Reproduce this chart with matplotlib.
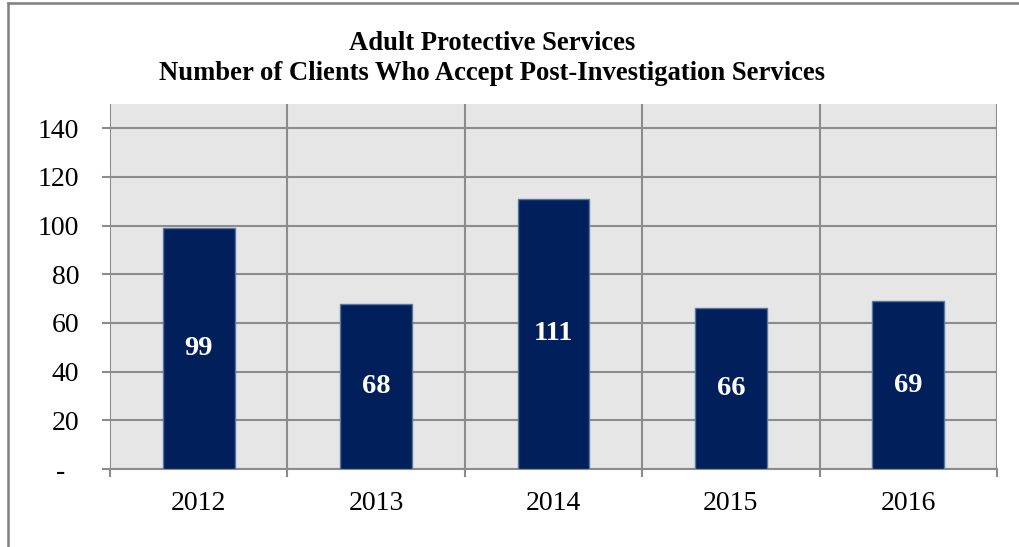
import matplotlib.pyplot as plt
from matplotlib.lines import Line2D
from matplotlib.transforms import ScaledTranslation

years = ['2012', '2013', '2014', '2015', '2016']
clients = [99, 68, 111, 66, 69]
y_ticks = [0, 20, 40, 60, 80, 100, 120, 140]
y_labels = ['-', '20', '40', '60', '80', '100', '120', '140']

plt.rcParams['font.family'] = ['Liberation Serif', 'DejaVu Serif']

W, H = 1019, 547
fig = plt.figure(figsize=(W / 100, H / 100), dpi=100)
ax = fig.add_axes([110 / W, 1 - 469 / H, (997 - 110) / W, (469 - 104) / H])

grid_col = '#8c8c8c'
ax.set_facecolor('#e6e6e6')
x = list(range(len(years)))
ax.bar(x, clients, width=0.405, color='#001f5b', edgecolor='#5577a0',
       linewidth=1.0, zorder=3)

for xi, v in zip(x, clients):
    ax.text(xi, v / 2, str(v), ha='center', va='center', color='white',
            fontsize=20.5, fontweight='bold', zorder=4)

ax.set_xlim(-0.5, len(years) - 0.5)
ax.set_ylim(0, 150)

ax.set_yticks(y_ticks)
ax.set_yticklabels(y_labels, fontsize=20)
ax.set_xticks(x)
ax.set_xticklabels(years, fontsize=20)
ax.set_xticks([i - 0.5 for i in range(len(years) + 1)], minor=True)

ax.tick_params(axis='y', length=6, width=1.5, color=grid_col, pad=16)
ax.tick_params(axis='x', which='major', length=0, pad=16)
ax.tick_params(axis='x', which='minor', length=6, width=1.5, color=grid_col)

# zero label sits a bit further left, like the accounting format
zero_lab = ax.get_yticklabels()[0]
zero_lab.set_transform(zero_lab.get_transform() + ScaledTranslation(-14 / 100, 0, fig.dpi_scale_trans))

ax.grid(axis='y', which='major', color=grid_col, linewidth=1.5, zorder=1)
ax.grid(axis='x', which='minor', color=grid_col, linewidth=1.5, zorder=1)
for s in ['top', 'right', 'left']:
    ax.spines[s].set_visible(False)
ax.spines['bottom'].set_color(grid_col)
ax.spines['bottom'].set_linewidth(1.5)
ax.set_axisbelow(True)

fig.text(492 / W, 1 - 43 / H, 'Adult Protective Services', ha='center', va='center',
         fontsize=19.2, fontweight='bold')
fig.text(492 / W, 1 - 73 / H, 'Number of Clients Who Accept Post-Investigation Services',
         ha='center', va='center', fontsize=19.2, fontweight='bold')

# outer chart border (only left and top fall inside the image)
fig.add_artist(Line2D([8 / W, 8 / W], [-0.1, 1 - 3 / H], color='#808080', linewidth=1.8))
fig.add_artist(Line2D([8 / W, 1.1], [1 - 3 / H, 1 - 3 / H], color='#808080', linewidth=1.8))

fig.savefig('out.png', dpi=100)
